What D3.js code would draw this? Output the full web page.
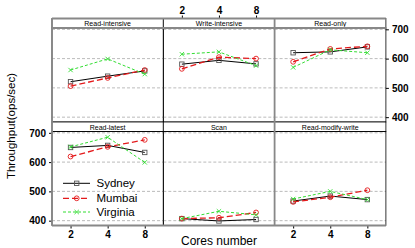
<!DOCTYPE html>
<html>
<head>
<meta charset="utf-8">
<script src="https://cdn.jsdelivr.net/npm/d3@7"></script>
<style>
  body { margin: 0; background: #fff; }
  text { font-family: "Liberation Sans", Arial, sans-serif; }
</style>
</head>
<body>
<div id="chart"></div>
<script>
const cores = [2, 4, 8];
const panels = ["Read-intensive", "Write-intensive", "Read-only", "Read-latest", "Scan", "Read-modify-write"];
const series = ["Sydney", "Mumbai", "Virginia"];
const yTicks = [400, 500, 600, 700];

// values per panel, order: Sydney, Mumbai, Virginia
const sydney   = [[521, 540, 558], [581, 594, 582], [620, 623, 640], [650, 657, 633], [407, 399, 404], [467, 484, 472]];
const mumbai   = [[506, 534, 561], [565, 605, 600], [589, 633, 642], [619, 652, 676], [407, 410, 428], [464, 480, 504]];
const virginia = [[561, 599, 547], [615, 623, 576], [570, 630, 620], [652, 685, 599], [407, 432, 420], [474, 500, 472]];

const W = 415, H = 248;
const left = 52, colW = 111.3;
const rows = [{ stripTop: 18.5, top: 28, bottom: 122 }, { stripTop: 122, top: 131.5, bottom: 225.5 }];

const styles = {
  Sydney:   { color: "#000", dash: null, width: 1, mark: "#555" },
  Mumbai:   { color: "#e41a1c", dash: "6,3", width: 1.3, mark: "#e41a1c" },
  Virginia: { color: "#33dd33", dash: "3,2", width: 1, mark: "#33dd33" }
};
const values = { Sydney: sydney, Mumbai: mumbai, Virginia: virginia };

const svg = d3.select("#chart").append("svg").attr("width", W).attr("height", H);

function marker(g, name, x, y) {
  const s = styles[name];
  if (name === "Sydney") {
    g.append("rect").attr("x", x - 2.2).attr("y", y - 2.2).attr("width", 4.4).attr("height", 4.4)
      .attr("fill", "none").attr("stroke", s.mark).attr("stroke-width", 0.9);
  } else if (name === "Mumbai") {
    g.append("circle").attr("cx", x).attr("cy", y).attr("r", 2.4)
      .attr("fill", "none").attr("stroke", s.mark).attr("stroke-width", 0.9);
  } else {
    g.append("path").attr("transform", `translate(${x},${y})`)
      .attr("d", d3.symbol(d3.symbolTimes, 14)())
      .attr("fill", "none").attr("stroke", s.mark).attr("stroke-width", 0.9);
  }
}

panels.forEach((p, i) => {
  const r = rows[Math.floor(i / 3)];
  const c = i % 3;
  const x0 = left + c * colW;
  const x = d3.scaleLog().base(2).domain([Math.SQRT2, 8 * Math.SQRT2]).range([x0, x0 + colW]);
  const y = d3.scaleLinear().domain([383.5, 704.5]).range([r.bottom, r.top]);
  const g = svg.append("g");

  // grid
  g.selectAll(".grid").data(yTicks).join("line")
    .attr("x1", x0).attr("x2", x0 + colW)
    .attr("y1", d => y(d)).attr("y2", d => y(d))
    .attr("stroke", "#aaa").attr("stroke-width", 0.8).attr("stroke-dasharray", "3,2");

  // strip
  g.append("rect").attr("x", x0).attr("y", r.stripTop).attr("width", colW).attr("height", r.top - r.stripTop)
    .attr("fill", "#fff").attr("stroke", "#000").attr("stroke-width", 0.8);
  g.append("text").attr("x", x0 + colW / 2).attr("y", r.top - 2)
    .attr("text-anchor", "middle").attr("font-size", 7).text(p);

  // series
  series.forEach(s => {
    const st = styles[s];
    const pts = cores.map((k, j) => [x(k), y(values[s][i][j])]);
    g.append("path").attr("d", d3.line()(pts)).attr("fill", "none")
      .attr("stroke", st.color).attr("stroke-width", st.width)
      .attr("stroke-dasharray", st.dash);
    pts.forEach(pt => marker(g, s, pt[0], pt[1]));
  });

  // panel border
  g.append("rect").attr("x", x0).attr("y", r.top).attr("width", colW).attr("height", r.bottom - r.top)
    .attr("fill", "none").attr("stroke", "#000").attr("stroke-width", 0.8);

  // axes
  const fmt = d3.format("d");
  if (i === 3) {
    svg.append("g").attr("transform", `translate(${x0},0)`)
      .call(d3.axisLeft(y).tickValues(yTicks).tickSize(3).tickPadding(3))
      .call(a => a.select(".domain").remove());
  }
  if (i === 2) {
    svg.append("g").attr("transform", `translate(${x0 + colW},0)`)
      .call(d3.axisRight(y).tickValues(yTicks).tickSize(3).tickPadding(3))
      .call(a => a.select(".domain").remove());
  }
  if (i === 3 || i === 5) {
    svg.append("g").attr("transform", `translate(0,${r.bottom})`)
      .call(d3.axisBottom(x).tickValues(cores).tickFormat(fmt).tickSize(3).tickPadding(2))
      .call(a => a.select(".domain").remove());
  }
  if (i === 1) {
    svg.append("g").attr("transform", `translate(0,${rows[0].stripTop})`)
      .call(d3.axisTop(x).tickValues(cores).tickFormat(fmt).tickSize(3).tickPadding(2))
      .call(a => a.select(".domain").remove());
  }
});

// gray outer frame pieces
const frame = svg.append("g").attr("stroke", "#888").attr("stroke-width", 1.8).attr("fill", "none");
frame.append("line").attr("x1", left).attr("x2", left).attr("y1", rows[0].stripTop).attr("y2", rows[1].bottom);
frame.append("line").attr("x1", left).attr("x2", left + 3 * colW).attr("y1", rows[0].stripTop).attr("y2", rows[0].stripTop);
frame.append("line").attr("x1", left).attr("x2", left + 3 * colW).attr("y1", rows[0].top).attr("y2", rows[0].top);
frame.append("line").attr("x1", left).attr("x2", left + 3 * colW).attr("y1", rows[1].bottom).attr("y2", rows[1].bottom);
frame.append("line").attr("x1", left + 2 * colW).attr("x2", left + 2 * colW).attr("y1", rows[0].stripTop).attr("y2", rows[1].bottom);

svg.selectAll(".tick text").attr("font-size", 10).attr("font-weight", "bold").attr("fill", "#000")
  .attr("font-family", "'Liberation Sans', Arial, sans-serif");
svg.selectAll(".tick line").attr("stroke", "#000");

// legend
const lg = svg.append("g");
const legY = [183.3, 198.3, 212];
series.forEach((s, k) => {
  const st = styles[s];
  lg.append("line").attr("x1", 63).attr("x2", 90).attr("y1", legY[k]).attr("y2", legY[k])
    .attr("stroke", st.color).attr("stroke-width", st.width).attr("stroke-dasharray", st.dash);
  marker(lg, s, 76.7, legY[k]);
  lg.append("text").attr("x", 96.5).attr("y", legY[k] + 4).attr("font-size", 11.5).text(s);
});

// titles
svg.append("text").attr("transform", "translate(15,126) rotate(-90)")
  .attr("text-anchor", "middle").attr("font-size", 11.5).text("Throughput(ops/sec)");
svg.append("text").attr("x", 219).attr("y", 245)
  .attr("text-anchor", "middle").attr("font-size", 12).text("Cores number");
</script>
</body>
</html>
